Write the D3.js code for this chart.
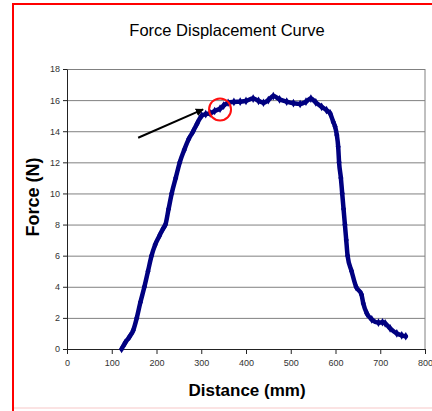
<!DOCTYPE html>
<html>
<head>
<meta charset="utf-8">
<script src="https://cdn.jsdelivr.net/npm/d3@7"></script>
<style>
    body { margin: 0; background: #fff; }
    #chart { width: 432px; height: 411px; overflow: hidden; }
    text { font-family: "Liberation Sans", Arial, sans-serif; }
</style>
</head>
<body>
<div id="chart"></div>
<script>
// distance (mm) and force (N)
const distance = [122, 130, 140, 148, 156, 164, 173, 181, 189, 197, 207, 215, 220, 227, 234, 243, 252, 262, 272, 282,
    291, 301, 310, 320, 330, 342, 350, 360, 373, 387, 400, 416, 428, 439, 450, 461, 475, 491, 506, 521,
    534, 545, 556, 569, 580, 588, 595, 599, 603, 606, 608, 612, 615, 618, 621, 624, 627, 636, 646, 658,
    662, 670, 681, 696, 705, 711, 722, 737, 748, 757];
const force = [0.0, 0.4, 0.8, 1.2, 2.0, 3.0, 4.0, 5.0, 6.0, 6.7, 7.3, 7.75, 8.0, 9.0, 10.0, 11.0, 12.0, 12.8, 13.5, 14.0,
    14.5, 15.0, 15.1, 15.15, 15.3, 15.45, 15.65, 15.83, 15.88, 15.9, 15.95, 16.1, 15.95, 15.83, 16.0, 16.26, 16.05, 15.9, 15.8, 15.75,
    15.9, 16.1, 15.85, 15.57, 15.35, 15.15, 14.6, 14.3, 13.75, 13.0, 12.0, 11.0, 10.0, 9.0, 8.0, 7.0, 6.0, 5.0, 4.0, 3.5,
    2.94, 2.29, 1.9, 1.69, 1.72, 1.65, 1.33, 1.0, 0.88, 0.82];

const xTicks = [0, 100, 200, 300, 400, 500, 600, 700, 800];
const yTicks = [0, 2, 4, 6, 8, 10, 12, 14, 16, 18];

// annotation: arrow pointing at the circled kink
const arrowFrom = [159, 13.58];
const arrowTo = [304, 15.4];
const circleAt = [342, 15.4];

class ForceChart {

    constructor(opts) {
        this.element = opts.element;
        this.data = opts.distance.map((d, i) => ({x: d, y: opts.force[i]}));
        this.color = '#000080';
        this.draw();
    }

    draw() {
        this.width = 432;
        this.height = 411;
        this.margin = {top: 69, right: 7, bottom: 62, left: 67};

        const svg = d3.select(this.element).append('svg')
            .attr('width', this.width)
            .attr('height', this.height);
        this.svg = svg;

        // red frame around the screenshot
        svg.append('rect')
            .attr('x', 13).attr('y', 4)
            .attr('width', 440).attr('height', 404)
            .attr('fill', 'none')
            .attr('stroke', '#fbe3e3')
            .attr('stroke-width', 2);
        svg.append('path')
            .attr('d', 'M13,411V4H432')
            .attr('fill', 'none')
            .attr('stroke', '#ff0000')
            .attr('stroke-width', 2);

        svg.append('text')
            .attr('x', 227).attr('y', 36)
            .attr('text-anchor', 'middle')
            .attr('font-size', 16.5)
            .attr('fill', '#000')
            .text('Force Displacement Curve');

        this.plot = svg.append('g')
            .attr('transform', `translate(${this.margin.left},${this.margin.top})`);

        this.createScales();
        this.addAxes();
        this.addCurve();
        this.addNote();
    }

    createScales() {
        this.w = this.width - this.margin.left - this.margin.right;
        this.h = this.height - this.margin.top - this.margin.bottom;
        this.xScale = d3.scaleLinear().domain([0, 800]).range([0, this.w]);
        this.yScale = d3.scaleLinear().domain([0, 18]).range([this.h, 0]);
    }

    addAxes() {
        const grid = this.plot.append('g')
            .call(d3.axisLeft(this.yScale).tickValues(yTicks).tickSize(-this.w).tickFormat(''));
        grid.select('.domain').remove();
        grid.selectAll('line').attr('stroke', '#808080');

        this.plot.append('line')
            .attr('x1', this.w).attr('x2', this.w)
            .attr('y1', 0).attr('y2', this.h)
            .attr('stroke', '#808080');

        const yAxis = this.plot.append('g')
            .call(d3.axisLeft(this.yScale).tickValues(yTicks).tickSize(4).tickPadding(3).tickSizeOuter(0));
        const xAxis = this.plot.append('g')
            .attr('transform', `translate(0,${this.h})`)
            .call(d3.axisBottom(this.xScale).tickValues(xTicks).tickSize(5).tickPadding(6).tickSizeOuter(0));

        [xAxis, yAxis].forEach(ax => {
            ax.select('.domain').attr('stroke', '#222');
            ax.selectAll('line').attr('stroke', '#222');
            ax.selectAll('text')
                .attr('font-family', '"Liberation Sans", Arial, sans-serif')
                .attr('font-size', 9)
                .attr('fill', '#333');
        });

        this.svg.append('text')
            .attr('transform', 'translate(39,197) rotate(-90)')
            .attr('text-anchor', 'middle')
            .attr('font-size', 18)
            .attr('font-weight', 'bold')
            .text('Force (N)');

        this.svg.append('text')
            .attr('x', 247).attr('y', 396)
            .attr('text-anchor', 'middle')
            .attr('font-size', 17)
            .attr('font-weight', 'bold')
            .text('Distance (mm)');
    }

    addCurve() {
        const line = d3.line()
            .curve(d3.curveMonotoneX)
            .x(d => this.xScale(d.x))
            .y(d => this.yScale(d.y));

        this.plot.append('path')
            .datum(this.data)
            .attr('fill', 'none')
            .attr('stroke', this.color)
            .attr('stroke-width', 4.5)
            .attr('stroke-linejoin', 'round')
            .attr('stroke-linecap', 'round')
            .attr('d', line);

        this.plot.selectAll('.pt')
            .data(this.data)
            .enter()
            .append('path')
                .attr('class', 'pt')
                .attr('transform', d => `translate(${this.xScale(d.x)},${this.yScale(d.y)})`)
                .attr('d', d3.symbol(d3.symbolDiamond, 22))
                .attr('fill', this.color);
    }

    addNote() {
        const defs = this.svg.append('defs');
        defs.append('marker')
            .attr('id', 'head')
            .attr('viewBox', '0 0 10 10')
            .attr('refX', 9).attr('refY', 5)
            .attr('markerWidth', 4).attr('markerHeight', 4)
            .attr('orient', 'auto')
            .append('path')
                .attr('d', 'M0,0L10,5L0,10z')
                .attr('fill', '#000');

        this.plot.append('line')
            .attr('x1', this.xScale(arrowFrom[0])).attr('y1', this.yScale(arrowFrom[1]))
            .attr('x2', this.xScale(arrowTo[0])).attr('y2', this.yScale(arrowTo[1]))
            .attr('stroke', '#000')
            .attr('stroke-width', 2)
            .attr('marker-end', 'url(#head)');

        this.plot.append('circle')
            .attr('cx', this.xScale(circleAt[0]))
            .attr('cy', this.yScale(circleAt[1]))
            .attr('r', 11)
            .attr('fill', 'none')
            .attr('stroke', '#ff1010')
            .attr('stroke-width', 2);
    }
}

new ForceChart({
    element: document.getElementById('chart'),
    distance: distance,
    force: force
});
</script>
</body>
</html>
